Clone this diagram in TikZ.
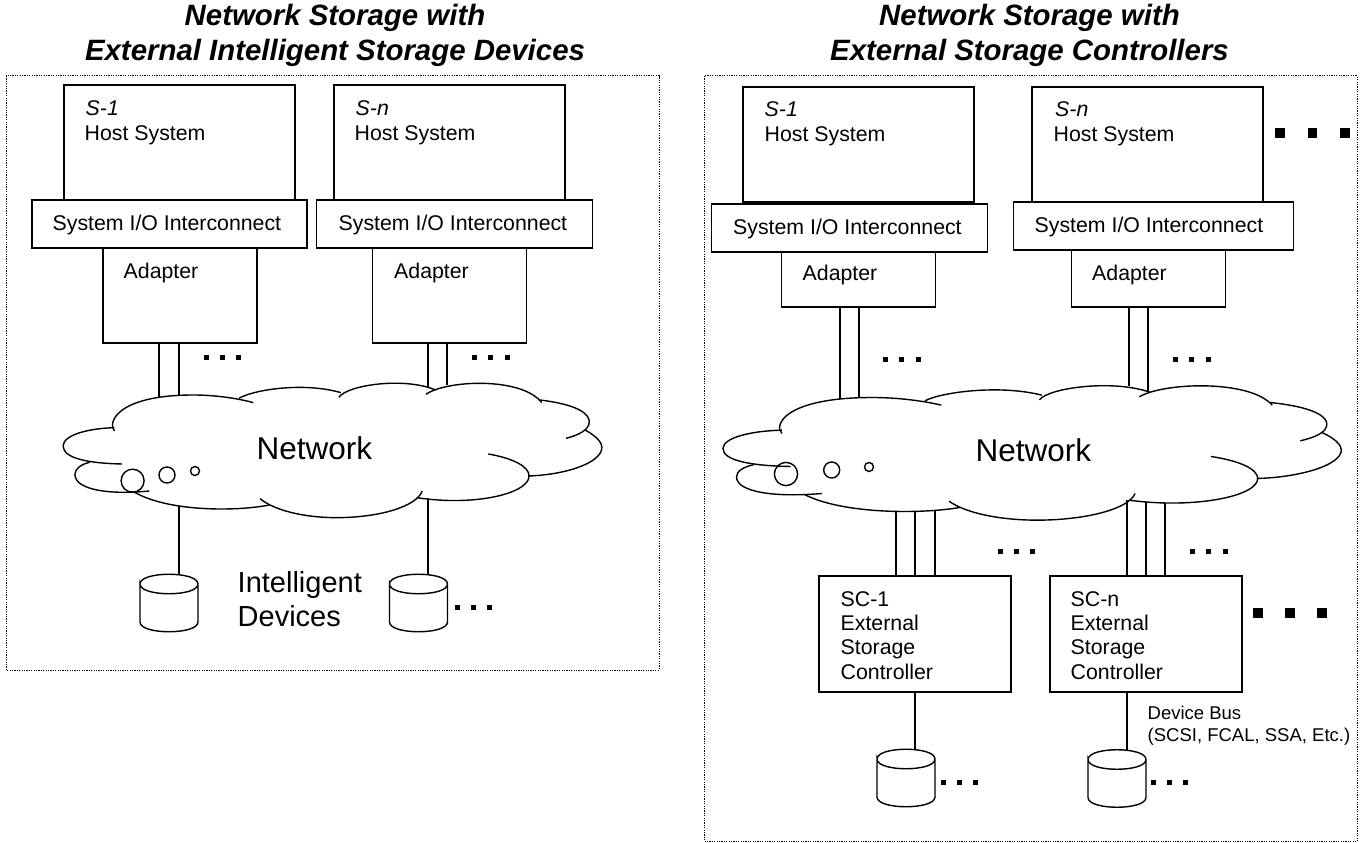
\documentclass[tikz,border=0pt]{standalone}
\usepackage{fontspec}
\usepackage{xcolor}
\usetikzlibrary{positioning}
\setmainfont{Liberation Sans}

\tikzset{
	boxnode/.style={draw, rectangle, inner sep=0pt, outer sep=0pt},
	hostbox/.style={boxnode, anchor=north west, minimum width=231pt, minimum height=115pt},
	iobox/.style={boxnode, minimum height=48pt},
	adapterbox/.style={boxnode, minimum width=154pt},
	scbox/.style={boxnode, anchor=north west, minimum width=192pt, minimum height=116pt},
	labeltext/.style={anchor=base west, inner sep=0pt, font=\fontsize{21.3}{24.3}\selectfont},
	bigtext/.style={anchor=base west, inner sep=0pt, font=\fontsize{29}{34}\selectfont},
	titletext/.style={anchor=north, align=center, inner sep=0pt, font=\fontsize{29.4}{35}\selectfont\bfseries\itshape},
	frameline/.style={line width=1pt, dash pattern=on 1.2pt off 1.2pt}
}

\newcommand{\netcloud}{
	\draw (272,303) .. controls (255,280) and (275,195) .. (460,195) .. controls (510,195) and (565,205) .. (602,218);
	\draw (568,205) .. controls (600,180) and (720,155) .. (810,188);
	\draw (805,202) .. controls (825,165) and (960,140) .. (1035,180);
	\draw (1012,193) .. controls (1060,150) and (1240,140) .. (1287,218);
	\draw (1283,210) .. controls (1380,225) and (1400,255) .. (1400,275) .. controls (1400,300) and (1375,315) .. (1345,325);
	\draw (1390,300) .. controls (1420,320) and (1430,340) .. (1430,352) .. controls (1430,400) and (1340,435) .. (1255,438);
	\draw (1160,372) .. controls (1220,385) and (1257,410) .. (1257,438) .. controls (1257,490) and (1130,530) .. (990,503);
	\draw (1003,483) .. controls (990,530) and (900,563) .. (800,563) .. controls (720,563) and (650,540) .. (618,506);
	\draw (640,525) .. controls (560,545) and (400,545) .. (320,487);
	\draw (355,483) .. controls (260,495) and (178,480) .. (178,433) .. controls (178,415) and (195,402) .. (213,397);
	\draw (290,402) .. controls (210,400) and (150,385) .. (150,348) .. controls (150,315) and (210,295) .. (272,293);
}
\newcommand{\diskcan}[2]{
	\begin{scope}[shift={(#1,#2)}]
		\draw (0,10) .. controls (0,-3) and (58,-3) .. (58,10) .. controls (58,23) and (0,23) .. (0,10)
			-- (0,48) .. controls (0,61) and (58,61) .. (58,48) -- (58,10);
	\end{scope}
}
\newcommand{\sqdots}[4]{
	\fill (#1-#4/2,#2-#4/2) rectangle +(#4,#4);
	\fill (#1+#3-#4/2,#2-#4/2) rectangle +(#4,#4);
	\fill (#1+2*#3-#4/2,#2-#4/2) rectangle +(#4,#4);
}

\begin{document}
\begin{tikzpicture}[x=1pt, y=-1pt, line width=1.4pt]
	\useasboundingbox (0,0) rectangle (1361,843);

	% left side
	\node[titletext] (titleL) at (335,3) {Network Storage with\\External Intelligent Storage Devices};
	\draw[frameline] (6,76) rectangle (659,670);

	\node[hostbox] (hl1) at (64,85) {};
	\node[hostbox] (hln) at (334,85) {};
	\node[iobox, minimum width=275pt] (iol1)[below=0pt of hl1, xshift=-10pt] {};
	\node[iobox, minimum width=276pt] (ioln)[below=0pt of hln, xshift=5pt] {};
	\node[adapterbox, minimum height=95pt] (adl1)[below=0pt of iol1, xshift=10.5pt] {};
	\node[adapterbox, minimum height=95pt] (adln)[below=0pt of ioln, xshift=-5pt] {};

	\node[labeltext] (s1l) at (85,115) {\itshape S-1};
	\node[labeltext] (hs1l) at (84,140) {Host System};
	\node[labeltext] (snl) at (355,115) {\itshape S-n};
	\node[labeltext] (hsnl) at (354,140) {Host System};
	\node[labeltext] (ic1l) at (52,230) {System I/O Interconnect};
	\node[labeltext] (icnl) at (338,230) {System I/O Interconnect};
	\node[labeltext] (ad1l) at (123,278) {Adapter};
	\node[labeltext] (adnl) at (393.5,278) {Adapter};

	\begin{scope}[shift={(0,330)}, xscale=.4209, yscale=.3333]
		\netcloud
	\end{scope}
	\draw (132.6,480.7) circle (11.5);
	\draw (167,475) circle (8);
	\draw (195,471) circle (4.5);
	\node[bigtext, font=\fontsize{31.5}{34}\selectfont] (netl) at (256,459) {Network};

	\coordinate (la1) at (159,397);
	\coordinate (la2) at (179,395);
	\coordinate (lb1) at (428,387);
	\coordinate (lb2) at (447,385);
	\coordinate (lc1) at (179,506);
	\coordinate (lc2) at (428,498);
	\coordinate (ld1) at (179,574);
	\coordinate (ld2) at (428,574);
	\path
		(la1 |- adl1.south) edge (la1)
		(la2 |- adl1.south) edge (la2)
		(lb1 |- adln.south) edge (lb1)
		(lb2 |- adln.south) edge (lb2)
		(lc1) edge (ld1)
		(lc2) edge (ld2)
	;
	\diskcan{140}{574}
	\diskcan{389.5}{574}
	\node[bigtext] (intl) at (237,592) {Intelligent};
	\node[bigtext] (devl) at (237,626) {Devices};
	\sqdots{206}{357}{16}{5}
	\sqdots{474}{357}{16.5}{5}
	\sqdots{457}{607}{16}{5}

	% right side
	\node[titletext] (titleR) at (1029.5,3) {Network Storage with\\External Storage Controllers};
	\draw[frameline] (704.5,76) rectangle (1357,841.5);

	\node[hostbox] (hr1) at (743,87) {};
	\node[hostbox] (hrn) at (1032,87) {};
	\node[iobox, minimum width=276pt] (ior1)[below=2pt of hr1, xshift=-9pt] {};
	\node[iobox, minimum width=280pt] (iorn)[below=0pt of hrn, xshift=6pt] {};
	\node[adapterbox, minimum height=55pt] (adr1)[below=0pt of ior1, xshift=9pt] {};
	\node[adapterbox, minimum height=57pt] (adrn)[below=0pt of iorn, xshift=-5pt] {};

	\node[labeltext] (s1r) at (764,117) {\itshape S-1};
	\node[labeltext] (hs1r) at (764,141) {Host System};
	\node[labeltext] (snr) at (1054.5,117) {\itshape S-n};
	\node[labeltext] (hsnr) at (1053,141) {Host System};
	\node[labeltext] (ic1r) at (732.5,234) {System I/O Interconnect};
	\node[labeltext] (icnr) at (1034,232) {System I/O Interconnect};
	\node[labeltext] (ad1r) at (802,280) {Adapter};
	\node[labeltext] (adnr) at (1091.5,280) {Adapter};

	\begin{scope}[shift={(650.5,332.5)}, xscale=.4831, yscale=.3333]
		\netcloud
	\end{scope}
	\draw (786,474) circle (11.6);
	\draw (831.7,470) circle (8);
	\draw (869,467) circle (4.5);
	\node[bigtext, font=\fontsize{31.5}{34}\selectfont] (netr) at (975,461.5) {Network};

	\node[scbox] (sc1) at (819,576) {};
	\node[scbox] (scn) at (1050,576) {};
	\node[labeltext, align=left] (sc1t) at (840,679) {SC-1\\External\\Storage\\Controller};
	\node[labeltext, align=left] (scnt) at (1070,679) {SC-n\\External\\Storage\\Controller};
	\node[labeltext, align=left, font=\fontsize{18.5}{22}\selectfont] (busl) at (1147,741) {Device Bus\\(SCSI, FCAL, SSA, Etc.)};

	\coordinate (ra1) at (840,399);
	\coordinate (ra2) at (859,397);
	\coordinate (rb1) at (1129,386);
	\coordinate (rb2) at (1148,391);
	\coordinate (rc1) at (896,511);
	\coordinate (rc2) at (915,511);
	\coordinate (rc3) at (935,510);
	\coordinate (rd1) at (1127,500);
	\coordinate (rd2) at (1146,502);
	\coordinate (rd3) at (1165,503);
	\coordinate (re1) at (915,749);
	\coordinate (re2) at (1127,750);
	\path
		(ra1 |- adr1.south) edge (ra1)
		(ra2 |- adr1.south) edge (ra2)
		(rb1 |- adrn.south) edge (rb1)
		(rb2 |- adrn.south) edge (rb2)
		(rc1) edge (rc1 |- sc1.north)
		(rc2) edge (rc2 |- sc1.north)
		(rc3) edge (rc3 |- sc1.north)
		(rd1) edge (rd1 |- scn.north)
		(rd2) edge (rd2 |- scn.north)
		(rd3) edge (rd3 |- scn.north)
		(re1 |- sc1.south) edge (re1)
		(re2 |- scn.south) edge (re2)
	;
	\diskcan{877}{749}
	\diskcan{1088}{749.5}
	\sqdots{885}{359}{16.5}{5}
	\sqdots{1175}{359}{16.5}{5}
	\sqdots{1000}{551}{16}{5}
	\sqdots{1192}{551}{16.5}{5}
	\sqdots{943}{782}{16}{5}
	\sqdots{1153}{782}{16}{5}
	\sqdots{1280}{133}{32.5}{9.5}
	\sqdots{1258}{613}{32}{9.5}
\end{tikzpicture}
\end{document}
